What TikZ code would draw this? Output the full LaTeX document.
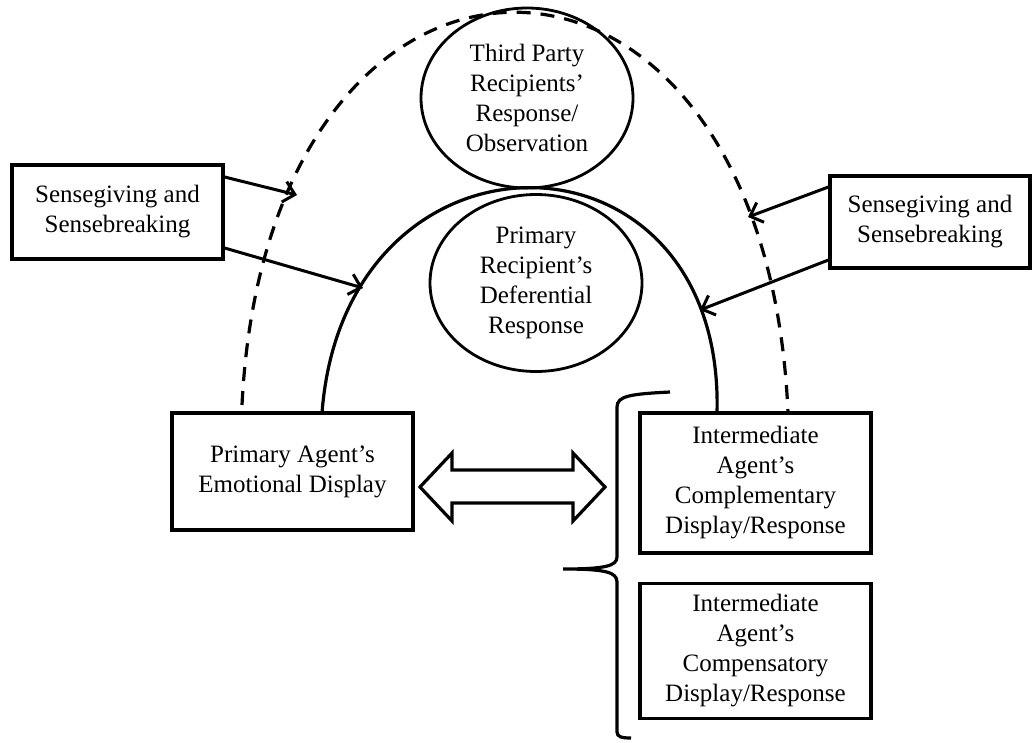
\documentclass[tikz,border=0pt]{standalone}
\usepackage{fontspec}
\setmainfont{Liberation Serif}
\usetikzlibrary{shapes.geometric,positioning,calc,arrows.meta}

\begin{document}
\begin{tikzpicture}[x=1pt, y=-1pt,
  every node/.style={font=\fontsize{25}{30}\selectfont, align=center},
  box/.style={draw, line width=3.2pt, rectangle, inner sep=0pt},
  oval/.style={draw, line width=2.8pt, ellipse, inner sep=0pt},
  feed/.style={line width=3pt, -{Straight Barb[length=11pt, width=21pt, line width=3pt]}},
  arch/.style={line width=3.2pt}]
  \useasboundingbox (0,0) rectangle (1032,742);

  % Sensegiving boxes on both sides
  \node[box, minimum width=211pt, minimum height=94pt] (sgL) at (117.5,212) {Sensegiving and\\Sensebreaking};
  \node[box, minimum width=200pt, minimum height=92pt] (sgR) at (930,222) {Sensegiving and\\Sensebreaking};

  % Recipients
  \node[oval, minimum width=212pt, minimum height=180pt] (third) at (527,98) {Third Party\\Recipients’\\Response/\\Observation};
  \node[oval, minimum width=212pt, minimum height=177pt] (prim) at (536,283) {Primary\\Recipient’s\\Deferential\\Response};

  % Agents
  \node[box, minimum width=241pt, minimum height=117pt] (agent) at (292.5,471.5) {Primary Agent’s\\Emotional Display};
  \node[box, minimum width=231pt, minimum height=140pt] (compl) at (755.5,483) {Intermediate\\Agent’s\\Complementary\\Display/Response};
  \node[box, minimum width=231pt, minimum height=135pt, below=27pt of compl] (comp) {Intermediate\\Agent’s\\Compensatory\\Display/Response};

  % Arch feet and arrow hits
  \coordinate (soL) at (322,413);
  \coordinate (soR) at (717,413);
  \coordinate (daL) at (242,405);
  \coordinate (daR) at (788,413);
  \coordinate (hitA) at (297,195);
  \coordinate (hitB) at (363,288);
  \coordinate (hitC) at (748,217);
  \coordinate (hitD) at (700,310);

  % Solid arch (primary) and dashed arch (third party)
  \draw[arch] (soL) .. controls (345,110) and (725,115) .. (soR);
  \draw[arch, dash pattern=on 14pt off 10pt] (daL) .. controls (268,-120) and (765,-120) .. (daR);

  % Sensegiving arrows
  \draw[feed] ($(sgL.east)+(0,-35)$) -- (hitA);
  \draw[feed] ($(sgL.east)+(0,36)$) -- (hitB);
  \draw[feed] ($(sgR.west)+(0,-35)$) -- (hitC);
  \draw[feed] ($(sgR.west)+(0,38)$) -- (hitD);

  % Two-way block arrow between agents
  \draw[line width=3.2pt, line join=miter] (420,487) -- (452,453) -- (452,470) -- (573,470) -- (573,453)
    -- (605,487) -- (573,521) -- (573,503) -- (452,503) -- (452,521) -- cycle;

  % Brace grouping intermediate responses
  \draw[line width=3.2pt] (670,392) .. controls (630,394) and (617,396) .. (617,407) -- (617,557)
    .. controls (617,566) and (605,569) .. (563,569)
    .. controls (605,569) and (617,572) .. (617,582) -- (617,732)
    .. controls (617,737) and (622,738) .. (631,738);
\end{tikzpicture}
\end{document}
